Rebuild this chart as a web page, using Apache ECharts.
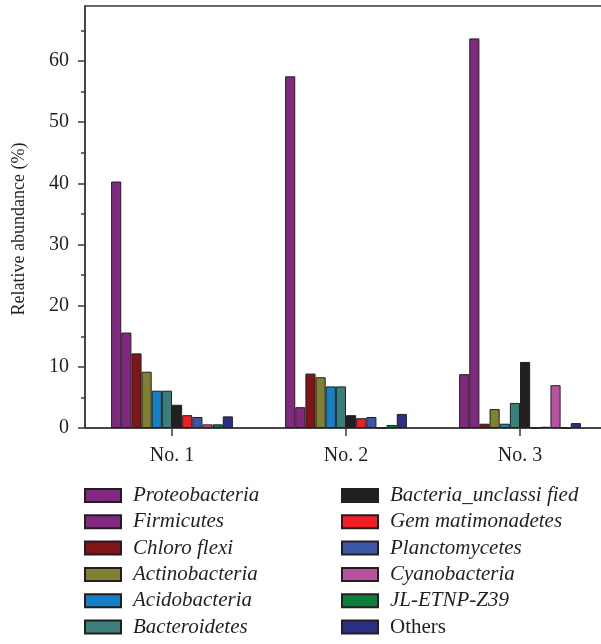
<!DOCTYPE html>
<html>
<head>
<meta charset="utf-8">
<script src="https://cdn.jsdelivr.net/npm/echarts@6/dist/echarts.min.js"></script>
<style>
  html, body { margin: 0; padding: 0; background: #fff; }
  #chart { width: 601px; height: 644px; }
</style>
</head>
<body>
<div id="chart"></div>
<script>
// Sample sites
const categories = ['No. 1', 'No. 2', 'No. 3'];

// Relative abundance (%) of each phylum per sample
const proteobacteria       = [40.3, 57.5, 8.8];
const firmicutes           = [15.6, 3.4, 63.7];
const chloroflexi          = [12.2, 8.9, 0.7];
const actinobacteria       = [9.2, 8.3, 3.1];
const acidobacteria        = [6.1, 6.8, 0.7];
const bacteroidetes        = [6.1, 6.8, 4.1];
const bacteriaUnclassified = [3.8, 2.1, 10.8];
const gemmatimonadetes     = [2.1, 1.6, 0];
const planctomycetes       = [1.8, 1.8, 0.2];
const cyanobacteria        = [0.6, 0, 7.0];
const jlEtnpZ39            = [0.6, 0.5, 0];
const others               = [1.9, 2.3, 0.8];

const seriesNames = [
  'Proteobacteria', 'Firmicutes', 'Chloro flexi', 'Actinobacteria',
  'Acidobacteria', 'Bacteroidetes', 'Bacteria_unclassi fied',
  'Gem matimonadetes', 'Planctomycetes', 'Cyanobacteria', 'JL-ETNP-Z39', 'Others'
];
const seriesValues = [
  proteobacteria, firmicutes, chloroflexi, actinobacteria, acidobacteria,
  bacteroidetes, bacteriaUnclassified, gemmatimonadetes, planctomycetes,
  cyanobacteria, jlEtnpZ39, others
];
const seriesColors = [
  '#80297f', '#80297f', '#7f1519', '#808033', '#1580c5', '#3b7f7c',
  '#231f20', '#ee1f25', '#3a56a5', '#b8529e', '#0b7f3d', '#2a2f84'
];

// Y axis ticks
const yMajorTicks = [0, 10, 20, 30, 40, 50, 60];
const yMinorTicks = [5, 15, 25, 35, 45, 55, 65];

const serif = '"Liberation Serif", "DejaVu Serif", serif';
const axisColor = '#3a3a3a';

const series = seriesNames.map((name, i) => ({
  name: name,
  type: 'bar',
  data: seriesValues[i],
  barGap: '0%',
  barCategoryGap: '30%',
  itemStyle: { color: seriesColors[i], borderColor: '#231f20', borderWidth: 1 }
}));

const legendText = {
  fontFamily: serif, fontSize: 21, fontStyle: 'italic', color: '#231f20',
  lineHeight: 20, padding: [0, 0, 0, 7]
};
function legendData(names) {
  return names.map(n => n === 'Others'
    ? { name: n, textStyle: { fontStyle: 'normal' } }
    : { name: n });
}
const legendBase = {
  orient: 'vertical',
  icon: 'rect',
  padding: 0,
  height: 170,
  itemWidth: 36,
  itemHeight: 13,
  itemGap: 5.3,
  textStyle: legendText,
  selectedMode: false
};

const chart = echarts.init(document.getElementById('chart'));
chart.setOption({
  animation: false,
  backgroundColor: '#ffffff',
  grid: {
    left: 85, top: 6, width: 522, bottom: 216,
    outerBoundsMode: 'none',
    show: true, borderColor: axisColor, borderWidth: 1.5
  },
  legend: [
    Object.assign({ left: 84, top: 485, data: legendData(seriesNames.slice(0, 6)) }, legendBase),
    Object.assign({ left: 341, top: 485, data: legendData(seriesNames.slice(6)) }, legendBase)
  ],
  xAxis: {
    type: 'category',
    data: categories,
    axisLine: { lineStyle: { color: axisColor, width: 1.5 } },
    axisTick: { show: true, alignWithLabel: true, length: 8, lineStyle: { color: axisColor, width: 1.5 } },
    axisLabel: { fontFamily: serif, fontSize: 20, color: '#231f20', margin: 18 }
  },
  yAxis: [
    {
      type: 'value',
      min: 0, max: 69, interval: 10,
      splitLine: { show: false },
      axisLine: { show: true, lineStyle: { color: axisColor, width: 1.5 } },
      axisTick: { show: true, length: 7, customValues: yMajorTicks, lineStyle: { color: axisColor, width: 1.5 } },
      axisLabel: { fontFamily: serif, fontSize: 20, color: '#231f20', margin: 16, customValues: yMajorTicks }
    },
    {
      type: 'value',
      position: 'left',
      min: 0, max: 69, interval: 5,
      splitLine: { show: false },
      axisLine: { show: false },
      axisTick: { show: true, length: 4, customValues: yMinorTicks, lineStyle: { color: axisColor, width: 1.5 } },
      axisLabel: { show: false }
    }
  ],
  graphic: [{
    type: 'text',
    x: 19, y: 229,
    rotation: Math.PI / 2,
    style: {
      text: 'Relative abundance (%)',
      font: '18px ' + serif,
      fill: '#231f20',
      textAlign: 'center',
      textVerticalAlign: 'middle'
    }
  }],
  series: series
});
</script>
</body>
</html>
